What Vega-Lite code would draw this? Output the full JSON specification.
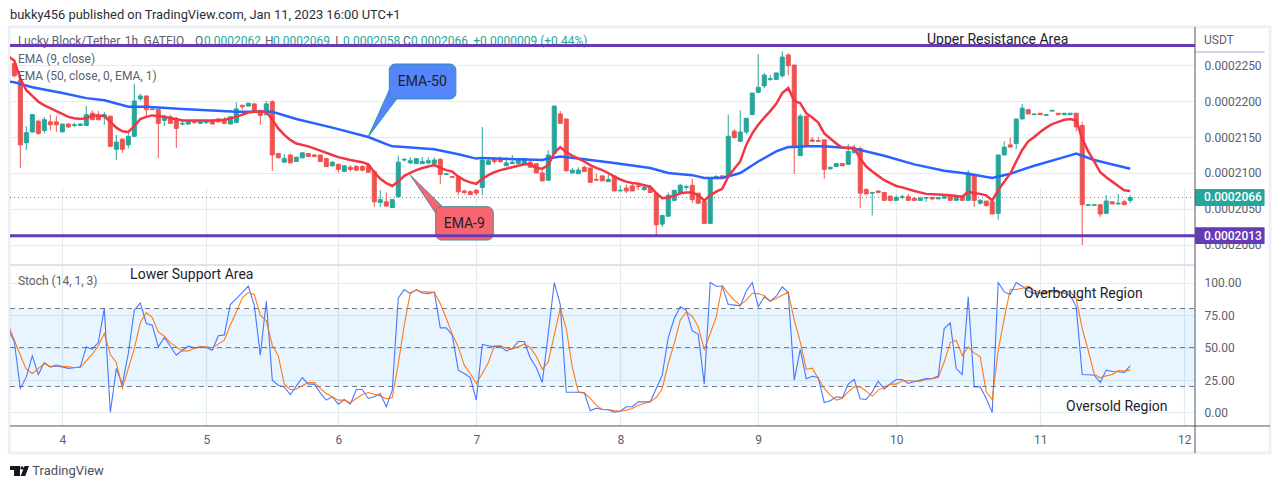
{"$schema":"https://vega.github.io/schema/vega-lite/v6.json","autosize":{"type":"none"},"width":1185,"height":399,"padding":{"left":10,"top":27,"right":85,"bottom":63},"background":"white","config":{"view":{"stroke":null},"text":{"font":"Roboto"},"axis":{"labelFont":"Roboto"}},
"datasets":{"candles":[
{"bar":0,"o":2252,"h":2258,"l":2233,"c":2235},{"bar":1,"o":2229,"h":2236,"l":2107,"c":2139},{"bar":2,"o":2142,"h":2165,"l":2132,"c":2156},{"bar":3,"o":2157,"h":2182,"l":2156,"c":2181},{"bar":4,"o":2172,"h":2174,"l":2153,"c":2155},{"bar":5,"o":2159,"h":2178,"l":2155,"c":2174},{"bar":6,"o":2171,"h":2181,"l":2159,"c":2167},{"bar":7,"o":2171,"h":2179,"l":2157,"c":2167},{"bar":8,"o":2157,"h":2168,"l":2157,"c":2168},{"bar":9,"o":2168,"h":2169,"l":2163,"c":2164},
{"bar":10,"o":2166,"h":2170,"l":2164,"c":2167},{"bar":11,"o":2166,"h":2169,"l":2165,"c":2168},{"bar":12,"o":2166,"h":2193,"l":2166,"c":2181},{"bar":13,"o":2183,"h":2187,"l":2174,"c":2174},{"bar":14,"o":2179,"h":2186,"l":2173,"c":2174},{"bar":15,"o":2178,"h":2185,"l":2167,"c":2181},{"bar":16,"o":2179,"h":2179,"l":2137,"c":2137},{"bar":17,"o":2133,"h":2153,"l":2118,"c":2143},{"bar":18,"o":2147,"h":2148,"l":2128,"c":2133},{"bar":19,"o":2139,"h":2157,"l":2134,"c":2151},
{"bar":20,"o":2151,"h":2224,"l":2150,"c":2200},{"bar":21,"o":2203,"h":2210,"l":2200,"c":2207},{"bar":22,"o":2207,"h":2207,"l":2178,"c":2188},{"bar":23,"o":2189,"h":2189,"l":2188,"c":2188},{"bar":24,"o":2188,"h":2188,"l":2121,"c":2169},{"bar":25,"o":2173,"h":2181,"l":2165,"c":2179},{"bar":26,"o":2178,"h":2181,"l":2169,"c":2169},{"bar":27,"o":2175,"h":2178,"l":2135,"c":2162},{"bar":28,"o":2168,"h":2174,"l":2166,"c":2169},{"bar":29,"o":2168,"h":2173,"l":2167,"c":2172},
{"bar":30,"o":2172,"h":2175,"l":2168,"c":2170},{"bar":31,"o":2169,"h":2174,"l":2168,"c":2172},{"bar":32,"o":2170,"h":2175,"l":2168,"c":2172},{"bar":33,"o":2172,"h":2173,"l":2168,"c":2168},{"bar":34,"o":2175,"h":2176,"l":2170,"c":2171},{"bar":35,"o":2173,"h":2178,"l":2168,"c":2169},{"bar":36,"o":2168,"h":2178,"l":2168,"c":2178},{"bar":37,"o":2170,"h":2198,"l":2170,"c":2189},{"bar":38,"o":2194,"h":2195,"l":2188,"c":2192},{"bar":39,"o":2193,"h":2197,"l":2193,"c":2197},
{"bar":40,"o":2196,"h":2196,"l":2186,"c":2186},{"bar":41,"o":2187,"h":2188,"l":2167,"c":2180},{"bar":42,"o":2181,"h":2200,"l":2180,"c":2196},{"bar":43,"o":2199,"h":2201,"l":2103,"c":2125},{"bar":44,"o":2127,"h":2128,"l":2121,"c":2121},{"bar":45,"o":2115,"h":2126,"l":2115,"c":2120},{"bar":46,"o":2125,"h":2127,"l":2114,"c":2114},{"bar":47,"o":2116,"h":2122,"l":2116,"c":2122},{"bar":48,"o":2121,"h":2129,"l":2121,"c":2128},{"bar":49,"o":2127,"h":2128,"l":2122,"c":2123},
{"bar":50,"o":2125,"h":2126,"l":2122,"c":2123},{"bar":51,"o":2125,"h":2125,"l":2116,"c":2116},{"bar":52,"o":2120,"h":2121,"l":2108,"c":2109},{"bar":53,"o":2110,"h":2116,"l":2109,"c":2115},{"bar":54,"o":2112,"h":2113,"l":2100,"c":2105},{"bar":55,"o":2102,"h":2111,"l":2102,"c":2110},{"bar":56,"o":2108,"h":2111,"l":2102,"c":2105},{"bar":57,"o":2109,"h":2111,"l":2102,"c":2104},{"bar":58,"o":2109,"h":2111,"l":2102,"c":2104},{"bar":59,"o":2110,"h":2113,"l":2101,"c":2101},
{"bar":60,"o":2102,"h":2104,"l":2053,"c":2060},{"bar":61,"o":2059,"h":2076,"l":2053,"c":2063},{"bar":62,"o":2060,"h":2073,"l":2054,"c":2054},{"bar":63,"o":2052,"h":2063,"l":2052,"c":2063},{"bar":64,"o":2067,"h":2124,"l":2066,"c":2115},{"bar":65,"o":2118,"h":2121,"l":2116,"c":2119},{"bar":66,"o":2114,"h":2122,"l":2112,"c":2117},{"bar":67,"o":2113,"h":2121,"l":2113,"c":2120},{"bar":68,"o":2113,"h":2122,"l":2113,"c":2116},{"bar":69,"o":2114,"h":2122,"l":2112,"c":2117},
{"bar":70,"o":2113,"h":2122,"l":2113,"c":2118},{"bar":71,"o":2119,"h":2120,"l":2085,"c":2098},{"bar":72,"o":2098,"h":2099,"l":2098,"c":2099},{"bar":73,"o":2095,"h":2095,"l":2094,"c":2094},{"bar":74,"o":2095,"h":2097,"l":2069,"c":2074},{"bar":75,"o":2075,"h":2077,"l":2070,"c":2073},{"bar":76,"o":2074,"h":2076,"l":2070,"c":2070},{"bar":77,"o":2076,"h":2078,"l":2069,"c":2072},{"bar":78,"o":2080,"h":2164,"l":2069,"c":2118},{"bar":79,"o":2112,"h":2120,"l":2112,"c":2117},
{"bar":80,"o":2120,"h":2120,"l":2113,"c":2116},{"bar":81,"o":2120,"h":2123,"l":2114,"c":2116},{"bar":82,"o":2110,"h":2122,"l":2110,"c":2114},{"bar":83,"o":2113,"h":2125,"l":2113,"c":2115},{"bar":84,"o":2113,"h":2121,"l":2113,"c":2120},{"bar":85,"o":2113,"h":2121,"l":2113,"c":2120},{"bar":86,"o":2115,"h":2119,"l":2108,"c":2108},{"bar":87,"o":2113,"h":2113,"l":2100,"c":2100},{"bar":88,"o":2100,"h":2104,"l":2089,"c":2089},{"bar":89,"o":2090,"h":2132,"l":2089,"c":2125},
{"bar":90,"o":2127,"h":2193,"l":2127,"c":2193},{"bar":91,"o":2182,"h":2186,"l":2168,"c":2169},{"bar":92,"o":2175,"h":2175,"l":2102,"c":2103},{"bar":93,"o":2100,"h":2107,"l":2100,"c":2104},{"bar":94,"o":2099,"h":2108,"l":2099,"c":2104},{"bar":95,"o":2108,"h":2110,"l":2102,"c":2102},{"bar":96,"o":2107,"h":2107,"l":2087,"c":2087},{"bar":97,"o":2091,"h":2099,"l":2089,"c":2090},{"bar":98,"o":2096,"h":2096,"l":2089,"c":2089},{"bar":99,"o":2088,"h":2100,"l":2088,"c":2091},
{"bar":100,"o":2096,"h":2096,"l":2075,"c":2075},{"bar":101,"o":2075,"h":2083,"l":2075,"c":2076},{"bar":102,"o":2079,"h":2084,"l":2072,"c":2075},{"bar":103,"o":2082,"h":2086,"l":2075,"c":2075},{"bar":104,"o":2082,"h":2086,"l":2076,"c":2081},{"bar":105,"o":2077,"h":2083,"l":2075,"c":2080},{"bar":106,"o":2080,"h":2083,"l":2073,"c":2073},{"bar":107,"o":2072,"h":2072,"l":2013,"c":2028},{"bar":108,"o":2029,"h":2041,"l":2025,"c":2041},{"bar":109,"o":2040,"h":2073,"l":2040,"c":2069},
{"bar":110,"o":2062,"h":2076,"l":2062,"c":2076},{"bar":111,"o":2072,"h":2085,"l":2072,"c":2083},{"bar":112,"o":2080,"h":2084,"l":2076,"c":2081},{"bar":113,"o":2083,"h":2092,"l":2058,"c":2063},{"bar":114,"o":2072,"h":2072,"l":2058,"c":2058},{"bar":115,"o":2061,"h":2061,"l":2030,"c":2030},{"bar":116,"o":2030,"h":2092,"l":2030,"c":2092},{"bar":117,"o":2093,"h":2097,"l":2093,"c":2095},{"bar":118,"o":2096,"h":2096,"l":2093,"c":2093},{"bar":119,"o":2095,"h":2181,"l":2095,"c":2151},
{"bar":120,"o":2158,"h":2161,"l":2149,"c":2149},{"bar":121,"o":2144,"h":2187,"l":2144,"c":2157},{"bar":122,"o":2157,"h":2176,"l":2154,"c":2176},{"bar":123,"o":2181,"h":2211,"l":2181,"c":2211},{"bar":124,"o":2212,"h":2265,"l":2212,"c":2219},{"bar":125,"o":2221,"h":2239,"l":2218,"c":2236},{"bar":126,"o":2230,"h":2236,"l":2228,"c":2231},{"bar":127,"o":2230,"h":2239,"l":2230,"c":2239},{"bar":128,"o":2235,"h":2269,"l":2232,"c":2261},{"bar":129,"o":2264,"h":2266,"l":2236,"c":2249},
{"bar":130,"o":2250,"h":2250,"l":2099,"c":2137},{"bar":131,"o":2124,"h":2182,"l":2124,"c":2179},{"bar":132,"o":2179,"h":2179,"l":2139,"c":2139},{"bar":133,"o":2146,"h":2150,"l":2143,"c":2144},{"bar":134,"o":2145,"h":2150,"l":2143,"c":2144},{"bar":135,"o":2146,"h":2146,"l":2092,"c":2105},{"bar":136,"o":2106,"h":2108,"l":2104,"c":2108},{"bar":137,"o":2109,"h":2113,"l":2109,"c":2113},{"bar":138,"o":2113,"h":2113,"l":2110,"c":2110},{"bar":139,"o":2112,"h":2140,"l":2112,"c":2130},
{"bar":140,"o":2128,"h":2139,"l":2128,"c":2134},{"bar":141,"o":2134,"h":2137,"l":2051,"c":2072},{"bar":142,"o":2077,"h":2079,"l":2070,"c":2071},{"bar":143,"o":2072,"h":2073,"l":2041,"c":2073},{"bar":144,"o":2075,"h":2075,"l":2073,"c":2073},{"bar":145,"o":2073,"h":2073,"l":2062,"c":2062},{"bar":146,"o":2068,"h":2068,"l":2062,"c":2062},{"bar":147,"o":2062,"h":2069,"l":2062,"c":2066},{"bar":148,"o":2066,"h":2070,"l":2064,"c":2067},{"bar":149,"o":2067,"h":2071,"l":2062,"c":2062},
{"bar":150,"o":2065,"h":2065,"l":2062,"c":2062},{"bar":151,"o":2062,"h":2067,"l":2062,"c":2065},{"bar":152,"o":2065,"h":2066,"l":2060,"c":2066},{"bar":153,"o":2066,"h":2066,"l":2062,"c":2064},{"bar":154,"o":2064,"h":2066,"l":2064,"c":2066},{"bar":155,"o":2065,"h":2067,"l":2065,"c":2067},{"bar":156,"o":2068,"h":2068,"l":2062,"c":2062},{"bar":157,"o":2062,"h":2067,"l":2062,"c":2067},{"bar":158,"o":2068,"h":2068,"l":2062,"c":2062},{"bar":159,"o":2062,"h":2104,"l":2062,"c":2100},
{"bar":160,"o":2097,"h":2097,"l":2053,"c":2062},{"bar":161,"o":2058,"h":2064,"l":2056,"c":2062},{"bar":162,"o":2061,"h":2061,"l":2053,"c":2055},{"bar":163,"o":2060,"h":2065,"l":2043,"c":2043},{"bar":164,"o":2044,"h":2125,"l":2035,"c":2125},{"bar":165,"o":2125,"h":2144,"l":2125,"c":2136},{"bar":166,"o":2139,"h":2149,"l":2136,"c":2136},{"bar":167,"o":2141,"h":2175,"l":2133,"c":2175},{"bar":168,"o":2175,"h":2196,"l":2175,"c":2190},{"bar":169,"o":2188,"h":2189,"l":2182,"c":2182},
{"bar":170,"o":2181,"h":2182,"l":2181,"c":2182},{"bar":171,"o":2183,"h":2183,"l":2181,"c":2181},{"bar":172,"o":2180,"h":2181,"l":2180,"c":2181},{"bar":173,"o":2186,"h":2187,"l":2186,"c":2187},{"bar":174,"o":2183,"h":2183,"l":2181,"c":2181},{"bar":175,"o":2181,"h":2183,"l":2181,"c":2183},{"bar":176,"o":2181,"h":2183,"l":2181,"c":2183},{"bar":177,"o":2183,"h":2183,"l":2158,"c":2164},{"bar":178,"o":2166,"h":2171,"l":2000,"c":2056},{"bar":179,"o":2055,"h":2056,"l":2055,"c":2056},
{"bar":180,"o":2055,"h":2056,"l":2055,"c":2056},{"bar":181,"o":2056,"h":2056,"l":2039,"c":2043},{"bar":182,"o":2044,"h":2069,"l":2044,"c":2061},{"bar":183,"o":2060,"h":2060,"l":2057,"c":2057},{"bar":184,"o":2057,"h":2071,"l":2056,"c":2058},{"bar":185,"o":2060,"h":2063,"l":2056,"c":2056},{"bar":186,"o":2062,"h":2069,"l":2058,"c":2066}],
"ema9":[{"bar":-1,"p":2262},{"bar":0,"p":2256},{"bar":1,"p":2231},{"bar":2,"p":2215},{"bar":3,"p":2207},{"bar":4,"p":2199},{"bar":5,"p":2194},{"bar":6,"p":2190},{"bar":7,"p":2186},{"bar":8,"p":2182},{"bar":9,"p":2178},{"bar":10,"p":2176},{"bar":11,"p":2175},{"bar":12,"p":2176},{"bar":13,"p":2180},{"bar":14,"p":2180},{"bar":15,"p":2179},{"bar":16,"p":2171},{"bar":17,"p":2163},{"bar":18,"p":2158},{"bar":19,"p":2157},{"bar":20,"p":2165},{"bar":21,"p":2175},{"bar":22,"p":2178},{"bar":23,"p":2180},{"bar":24,"p":2179},{"bar":25,"p":2178},{"bar":26,"p":2176},{"bar":27,"p":2175},{"bar":28,"p":2173},{"bar":31,"p":2173},{"bar":33,"p":2173},{"bar":35,"p":2174},{"bar":37,"p":2178},{"bar":39,"p":2184},{"bar":40,"p":2185},{"bar":41,"p":2185},{"bar":42,"p":2185},{"bar":43,"p":2174},{"bar":44,"p":2162},{"bar":45,"p":2153},{"bar":46,"p":2146},{"bar":47,"p":2141},{"bar":49,"p":2137},{"bar":51,"p":2131},{"bar":53,"p":2125},{"bar":54,"p":2122},{"bar":56,"p":2118},{"bar":58,"p":2115},{"bar":59,"p":2112},{"bar":60,"p":2101},{"bar":61,"p":2092},{"bar":62,"p":2086},{"bar":63,"p":2082},{"bar":64,"p":2088},{"bar":65,"p":2096},{"bar":66,"p":2100},{"bar":67,"p":2104},{"bar":68,"p":2107},{"bar":69,"p":2109},{"bar":70,"p":2111},{"bar":71,"p":2107},{"bar":72,"p":2104},{"bar":73,"p":2102},{"bar":74,"p":2095},{"bar":75,"p":2090},{"bar":76,"p":2087},{"bar":77,"p":2085},{"bar":78,"p":2092},{"bar":79,"p":2097},{"bar":80,"p":2101},{"bar":81,"p":2104},{"bar":82,"p":2106},{"bar":83,"p":2108},{"bar":84,"p":2110},{"bar":85,"p":2112},{"bar":86,"p":2112},{"bar":87,"p":2107},{"bar":88,"p":2106},{"bar":89,"p":2111},{"bar":90,"p":2128},{"bar":91,"p":2136},{"bar":92,"p":2129},{"bar":93,"p":2124},{"bar":94,"p":2120},{"bar":95,"p":2116},{"bar":96,"p":2111},{"bar":97,"p":2107},{"bar":98,"p":2104},{"bar":99,"p":2100},{"bar":100,"p":2095},{"bar":101,"p":2091},{"bar":102,"p":2088},{"bar":103,"p":2086},{"bar":104,"p":2085},{"bar":105,"p":2083},{"bar":106,"p":2081},{"bar":107,"p":2072},{"bar":108,"p":2065},{"bar":109,"p":2066},{"bar":110,"p":2068},{"bar":111,"p":2072},{"bar":112,"p":2073},{"bar":113,"p":2073},{"bar":114,"p":2069},{"bar":115,"p":2062},{"bar":116,"p":2069},{"bar":117,"p":2074},{"bar":118,"p":2078},{"bar":119,"p":2095},{"bar":120,"p":2106},{"bar":121,"p":2116},{"bar":122,"p":2139},{"bar":123,"p":2155},{"bar":124,"p":2167},{"bar":125,"p":2177},{"bar":126,"p":2186},{"bar":127,"p":2196},{"bar":128,"p":2211},{"bar":129,"p":2218},{"bar":130,"p":2200},{"bar":131,"p":2197},{"bar":132,"p":2183},{"bar":133,"p":2177},{"bar":134,"p":2170},{"bar":135,"p":2155},{"bar":136,"p":2148},{"bar":137,"p":2141},{"bar":138,"p":2135},{"bar":139,"p":2135},{"bar":140,"p":2135},{"bar":141,"p":2120},{"bar":142,"p":2109},{"bar":143,"p":2102},{"bar":144,"p":2096},{"bar":145,"p":2090},{"bar":146,"p":2086},{"bar":147,"p":2082},{"bar":148,"p":2080},{"bar":150,"p":2075},{"bar":152,"p":2071},{"bar":154,"p":2070},{"bar":156,"p":2069},{"bar":158,"p":2067},{"bar":159,"p":2074},{"bar":160,"p":2072},{"bar":161,"p":2071},{"bar":162,"p":2069},{"bar":163,"p":2062},{"bar":164,"p":2076},{"bar":165,"p":2088},{"bar":166,"p":2099},{"bar":167,"p":2116},{"bar":168,"p":2132},{"bar":169,"p":2144},{"bar":170,"p":2150},{"bar":171,"p":2157},{"bar":172,"p":2163},{"bar":173,"p":2168},{"bar":174,"p":2171},{"bar":175,"p":2174},{"bar":176,"p":2175},{"bar":177,"p":2173},{"bar":178,"p":2148},{"bar":179,"p":2130},{"bar":180,"p":2116},{"bar":181,"p":2101},{"bar":182,"p":2094},{"bar":183,"p":2088},{"bar":184,"p":2082},{"bar":185,"p":2076},{"bar":186,"p":2075}],
"ema50":[{"bar":-1,"p":2227},{"bar":0,"p":2226},{"bar":3,"p":2219},{"bar":8,"p":2211},{"bar":12,"p":2204},{"bar":15,"p":2201},{"bar":19,"p":2192},{"bar":22,"p":2192},{"bar":28,"p":2189},{"bar":37,"p":2185},{"bar":40,"p":2185},{"bar":43,"p":2185},{"bar":47,"p":2175},{"bar":53,"p":2163},{"bar":59,"p":2150},{"bar":62,"p":2140},{"bar":63,"p":2137},{"bar":65,"p":2136},{"bar":70,"p":2133},{"bar":74,"p":2126},{"bar":77,"p":2120},{"bar":78,"p":2121},{"bar":84,"p":2119},{"bar":88,"p":2118},{"bar":89,"p":2120},{"bar":91,"p":2123},{"bar":94,"p":2120},{"bar":100,"p":2114},{"bar":106,"p":2107},{"bar":109,"p":2100},{"bar":113,"p":2097},{"bar":115,"p":2093},{"bar":118,"p":2093},{"bar":121,"p":2100},{"bar":124,"p":2116},{"bar":127,"p":2130},{"bar":129,"p":2136},{"bar":130,"p":2136},{"bar":132,"p":2137},{"bar":135,"p":2137},{"bar":140,"p":2134},{"bar":145,"p":2124},{"bar":150,"p":2112},{"bar":155,"p":2103},{"bar":159,"p":2099},{"bar":163,"p":2093},{"bar":166,"p":2099},{"bar":170,"p":2110},{"bar":175,"p":2122},{"bar":177,"p":2127},{"bar":178,"p":2124},{"bar":180,"p":2118},{"bar":186,"p":2106}],
"stoch":[{"bar":-1,"k":64,"d":67},{"bar":0,"k":54.4,"d":55.6},{"bar":1,"k":18.5,"d":44.1},{"bar":2,"k":27.4,"d":33.3},{"bar":3,"k":43.6,"d":30},{"bar":4,"k":29.2,"d":33.8},{"bar":5,"k":38.5,"d":37.7},{"bar":6,"k":35.1,"d":35.1},{"bar":7,"k":35.9,"d":36.4},{"bar":8,"k":35.1,"d":35.6},{"bar":9,"k":33.8,"d":35.1},{"bar":10,"k":34.4,"d":34.6},{"bar":11,"k":35.1,"d":34.6},{"bar":12,"k":50.5,"d":39.7},{"bar":13,"k":48.7,"d":44.9},{"bar":14,"k":53.8,"d":51.3},{"bar":15,"k":80,"d":60.8},{"bar":16,"k":0,"d":44.6},{"bar":17,"k":33.8,"d":38.5},{"bar":18,"k":21.8,"d":18.5},{"bar":19,"k":45.4,"d":33.8},{"bar":20,"k":78.7,"d":49.2},{"bar":21,"k":84.4,"d":69},{"bar":22,"k":68.5,"d":76.9},{"bar":23,"k":67.2,"d":73.1},{"bar":24,"k":50.5,"d":62},{"bar":25,"k":57.7,"d":58.7},{"bar":26,"k":51,"d":53.6},{"bar":27,"k":44.1,"d":50.5},{"bar":28,"k":47.9,"d":47.4},{"bar":29,"k":51,"d":47.4},{"bar":30,"k":49.7,"d":49.2},{"bar":31,"k":50.5,"d":50.5},{"bar":32,"k":50,"d":50.5},{"bar":33,"k":47.9,"d":49.7},{"bar":34,"k":59,"d":52.6},{"bar":35,"k":59.7,"d":55.6},{"bar":36,"k":83.1,"d":67.2},{"bar":37,"k":87.7,"d":77.4},{"bar":38,"k":92.3,"d":88.2},{"bar":39,"k":97.2,"d":92.3},{"bar":40,"k":82.6,"d":90.8},{"bar":41,"k":44.1,"d":74.9},{"bar":42,"k":85.6,"d":70.5},{"bar":43,"k":24.9,"d":51.8},{"bar":44,"k":21,"d":43.6},{"bar":45,"k":19.7,"d":21.8},{"bar":46,"k":13.8,"d":17.7},{"bar":47,"k":20.3,"d":17.9},{"bar":48,"k":26.9,"d":20.5},{"bar":49,"k":21.8,"d":23.1},{"bar":50,"k":21.8,"d":23.1},{"bar":51,"k":15.1,"d":18.5},{"bar":52,"k":9.5,"d":14.6},{"bar":53,"k":12.1,"d":12.1},{"bar":54,"k":6.4,"d":9.5},{"bar":55,"k":10,"d":9.5},{"bar":56,"k":6.4,"d":7.4},{"bar":57,"k":17.7,"d":10.8},{"bar":58,"k":17.7,"d":13.8},{"bar":59,"k":10.8,"d":15.4},{"bar":60,"k":12.1,"d":14.1},{"bar":61,"k":14.6,"d":12.8},{"bar":62,"k":4.4,"d":10.5},{"bar":63,"k":17.2,"d":11.5},{"bar":64,"k":88.2,"d":37.7},{"bar":65,"k":94.6,"d":67.2},{"bar":66,"k":91.5,"d":92.3},{"bar":67,"k":94.6,"d":94.1},{"bar":68,"k":92,"d":92.8},{"bar":69,"k":91.5,"d":92.8},{"bar":70,"k":92.8,"d":92.3},{"bar":71,"k":65.1,"d":83.8},{"bar":72,"k":65.1,"d":72.3},{"bar":73,"k":59.5,"d":60.3},{"bar":74,"k":32.6,"d":50.5},{"bar":75,"k":30,"d":36.4},{"bar":76,"k":26.9,"d":30},{"bar":77,"k":9.5,"d":22.3},{"bar":78,"k":52.3,"d":30},{"bar":79,"k":51.3,"d":38.2},{"bar":80,"k":50.5,"d":51.3},{"bar":81,"k":51,"d":51.3},{"bar":82,"k":47.4,"d":49.7},{"bar":83,"k":49.2,"d":49},{"bar":84,"k":54.6,"d":50.5},{"bar":85,"k":54.6,"d":52.6},{"bar":86,"k":42,"d":50},{"bar":87,"k":34.6,"d":43.3},{"bar":88,"k":23.1,"d":33.3},{"bar":89,"k":60.8,"d":39},{"bar":90,"k":100,"d":59.5},{"bar":91,"k":83.1,"d":80.5},{"bar":92,"k":15.6,"d":64.6},{"bar":93,"k":15.6,"d":35.1},{"bar":94,"k":15.6,"d":15.9},{"bar":95,"k":15.1,"d":15.1},{"bar":96,"k":1.3,"d":10.8},{"bar":97,"k":3.3,"d":5.6},{"bar":98,"k":2.3,"d":2.3},{"bar":99,"k":2.1,"d":2.3},{"bar":100,"k":0.3,"d":1.5},{"bar":101,"k":1,"d":1},{"bar":102,"k":4.4,"d":1.8},{"bar":103,"k":4.4,"d":3.1},{"bar":104,"k":8.2,"d":5.6},{"bar":105,"k":8.2,"d":6.9},{"bar":106,"k":8.2,"d":8.2},{"bar":107,"k":18.5,"d":11.5},{"bar":108,"k":28.7,"d":18.5},{"bar":109,"k":57.7,"d":37.7},{"bar":110,"k":72.3,"d":53.1},{"bar":111,"k":81.3,"d":71},{"bar":112,"k":78.7,"d":77.4},{"bar":113,"k":62.8,"d":74.1},{"bar":114,"k":60.3,"d":65.9},{"bar":115,"k":21.8,"d":48.5},{"bar":116,"k":100,"d":60.8},{"bar":117,"k":97.2,"d":73.6},{"bar":118,"k":97.2,"d":97.7},{"bar":119,"k":83.1,"d":91.5},{"bar":120,"k":82.6,"d":86.4},{"bar":121,"k":82.1,"d":82.6},{"bar":122,"k":93.3,"d":86.4},{"bar":123,"k":100,"d":91.8},{"bar":124,"k":81.3,"d":91.5},{"bar":125,"k":89,"d":90},{"bar":126,"k":85.6,"d":85.6},{"bar":127,"k":89.5,"d":87.7},{"bar":128,"k":96.7,"d":90.3},{"bar":129,"k":92.3,"d":92.6},{"bar":130,"k":24.9,"d":71},{"bar":131,"k":48.5,"d":54.4},{"bar":132,"k":25.9,"d":33.3},{"bar":133,"k":27.9,"d":34.1},{"bar":134,"k":26.9,"d":26.2},{"bar":135,"k":7.7,"d":18.5},{"bar":136,"k":9,"d":13.3},{"bar":137,"k":12.1,"d":9.5},{"bar":138,"k":11.3,"d":10.8},{"bar":139,"k":21.8,"d":15.9},{"bar":140,"k":25.4,"d":19.7},{"bar":141,"k":10.5,"d":19.7},{"bar":142,"k":10,"d":16.4},{"bar":143,"k":15.9,"d":12.6},{"bar":144,"k":24.1,"d":17.2},{"bar":145,"k":17.9,"d":19.7},{"bar":146,"k":21.8,"d":21.8},{"bar":147,"k":25.4,"d":21.8},{"bar":148,"k":25.4,"d":24.4},{"bar":149,"k":22.3,"d":24.4},{"bar":150,"k":23.6,"d":24.1},{"bar":151,"k":24.9,"d":24.1},{"bar":152,"k":26.2,"d":25.4},{"bar":153,"k":26.2,"d":25.9},{"bar":154,"k":28,"d":26.9},{"bar":155,"k":64.6,"d":39},{"bar":156,"k":69,"d":53.8},{"bar":157,"k":33.8,"d":55.6},{"bar":158,"k":29.2,"d":43.8},{"bar":159,"k":89,"d":50.5},{"bar":160,"k":19.7,"d":45.9},{"bar":161,"k":19.7,"d":42.8},{"bar":162,"k":10.8,"d":15.9},{"bar":163,"k":0,"d":10},{"bar":164,"k":100,"d":47.9},{"bar":165,"k":92.8,"d":72.3},{"bar":166,"k":90.8,"d":94.6},{"bar":167,"k":100,"d":94.6},{"bar":168,"k":97.2,"d":95.6},{"bar":169,"k":93.6,"d":97.2},{"bar":170,"k":91.5,"d":94.1},{"bar":171,"k":92,"d":92},{"bar":172,"k":92.8,"d":92.6},{"bar":173,"k":94.1,"d":92.8},{"bar":174,"k":92.8,"d":92.8},{"bar":175,"k":91.5,"d":92.8},{"bar":176,"k":90.3,"d":92.8},{"bar":177,"k":81.3,"d":87.7},{"bar":178,"k":29.2,"d":64.6},{"bar":179,"k":29,"d":47.9},{"bar":180,"k":28.7,"d":29.5},{"bar":181,"k":23.1,"d":26.7},{"bar":182,"k":32.6,"d":28.2},{"bar":183,"k":31.5,"d":29.2},{"bar":184,"k":31.3,"d":32.3},{"bar":185,"k":30.8,"d":31.8},{"bar":186,"k":35.9,"d":32.6}]},
"encoding":{"x":{"field":"bar","type":"quantitative","title":null,"scale":{"domain":[-0.72,196.8],"nice":false,"zero":false,"padding":0},"axis":{"values":[8,32,54,77,101,124,147,171,195],"labelExpr":"{8:'4',32:'5',54:'6',77:'7',101:'8',124:'9',147:'10',171:'11',195:'12'}[datum.value]","grid":true,"gridColor":"#e1ecf3","gridWidth":1.2,"domain":false,"ticks":false,"labelPadding":8,"labelFontSize":12,"labelColor":"#5d606b"}}},
"layer":[
{"layer":[
{"data":{"values":[{"bar":-0.83,"bar2":209.3,"p":1711,"p2":2303}]},"mark":{"type":"rect","fill":null,"stroke":"#eef0f6","strokeWidth":3},"encoding":{"x2":{"field":"bar2"},"y":{"field":"p","type":"quantitative","title":null,"scale":{"domain":[1972.2,2302.8],"range":[238,0],"nice":false,"zero":false},"axis":{"orient":"right","values":[2000,2050,2100,2150,2200,2250],"labelExpr":"format(datum.value/10000000,'.7f')","grid":true,"gridColor":"#e1ecf3","gridWidth":1.2,"domain":false,"ticks":false,"labelPadding":9,"labelFontSize":12,"labelColor":"#5d606b"}},"y2":{"field":"p2"}}},
{"data":{"name":"candles"},"mark":{"type":"rule","strokeWidth":1},"encoding":{"y":{"field":"h","type":"quantitative","title":null,"scale":{"domain":[1972.2,2302.8],"range":[238,0],"nice":false,"zero":false}},"y2":{"field":"l"},"stroke":{"condition":{"test":"datum.c>=datum.o","value":"#26a69a"},"value":"#ef5350"}}},
{"data":{"name":"candles"},"mark":{"type":"bar","size":4,"strokeWidth":1},"encoding":{"y":{"field":"o","type":"quantitative","title":null,"scale":{"domain":[1972.2,2302.8],"range":[238,0],"nice":false,"zero":false}},"y2":{"field":"c"},"fill":{"condition":{"test":"datum.c>=datum.o","value":"#26a69a"},"value":"#ef5350"},"stroke":{"condition":{"test":"datum.c>=datum.o","value":"#26a69a"},"value":"#ef5350"}}},
{"data":{"values":[{"bar":-0.72,"bar2":196.8,"p":2066}]},"mark":{"type":"rule","stroke":"#26a69a","strokeDash":[1,3],"strokeWidth":1},"encoding":{"x2":{"field":"bar2"},"y":{"field":"p","type":"quantitative","title":null,"scale":{"domain":[1972.2,2302.8],"range":[238,0],"nice":false,"zero":false}}}},
{"data":{"name":"ema50"},"mark":{"type":"line","stroke":"#2962ff","strokeWidth":2.5,"clip":true},"encoding":{"y":{"field":"p","type":"quantitative","title":null,"scale":{"domain":[1972.2,2302.8],"range":[238,0],"nice":false,"zero":false}}}},
{"data":{"name":"ema9"},"mark":{"type":"line","stroke":"#f23645","strokeWidth":2.5,"clip":true},"encoding":{"y":{"field":"p","type":"quantitative","title":null,"scale":{"domain":[1972.2,2302.8],"range":[238,0],"nice":false,"zero":false}}}},
{"data":{"values":[{"bar":59,"p":2150.4,"p2":2150.4},{"bar":62.5,"p":2215.3,"p2":2189.2},{"bar":63.73,"p":2202.8,"p2":2202.8}]},"mark":{"type":"area","fill":"#5585fb","stroke":"#2a93b0","strokeWidth":1},"encoding":{"y":{"field":"p","type":"quantitative","title":null,"scale":{"domain":[1972.2,2302.8],"range":[238,0],"nice":false,"zero":false}},"y2":{"field":"p2"}}},
{"data":{"values":[{"bar":66,"p":2097.2,"p2":2097.2},{"bar":70.23,"p":2062.6,"p2":2044.4},{"bar":71.4,"p":2053.2,"p2":2053.2}]},"mark":{"type":"area","fill":"#f7656f","stroke":"#4c8b99","strokeWidth":1},"encoding":{"y":{"field":"p","type":"quantitative","title":null,"scale":{"domain":[1972.2,2302.8],"range":[238,0],"nice":false,"zero":false}},"y2":{"field":"p2"}}},
{"data":{"values":[{"bar":62.5,"bar2":73.6,"p":2251.4,"p2":2202.8}]},"mark":{"type":"rect","fill":"#5585fb","stroke":"#2a93b0","strokeWidth":1,"cornerRadius":6},"encoding":{"x2":{"field":"bar2"},"y":{"field":"p","type":"quantitative","title":null,"scale":{"domain":[1972.2,2302.8],"range":[238,0],"nice":false,"zero":false}},"y2":{"field":"p2"}}},
{"data":{"values":[{"bar":70.23,"bar2":79.83,"p":2053.2,"p2":2006.9}]},"mark":{"type":"rect","fill":"#f7656f","stroke":"#4c8b99","strokeWidth":1,"cornerRadius":6},"encoding":{"x2":{"field":"bar2"},"y":{"field":"p","type":"quantitative","title":null,"scale":{"domain":[1972.2,2302.8],"range":[238,0],"nice":false,"zero":false}},"y2":{"field":"p2"}}},
{"data":{"values":[{"bar":68,"p":2226,"t":"EMA-50"},{"bar":75,"p":2029.5,"t":"EMA-9"},{"bar":163.9,"p":2284.7,"t":"Upper Resistance Area"}]},"mark":{"type":"text","fontSize":14,"align":"center","baseline":"middle","fill":"#1e222d"},"encoding":{"y":{"field":"p","type":"quantitative","title":null,"scale":{"domain":[1972.2,2302.8],"range":[238,0],"nice":false,"zero":false}},"text":{"field":"t"}}},
{"data":{"values":[{"bar":0.6,"p":2283.3,"t":"Lucky Block/Tether, 1h, GATEIO"},{"bar":30.1,"p":2283.3,"t":"O"},{"bar":41.8,"p":2283.3,"t":"H"},{"bar":53.5,"p":2283.3,"t":"L"},{"bar":64.8,"p":2283.3,"t":"C"},{"bar":0.6,"p":2258.3,"t":"EMA (9, close)"},{"bar":0.6,"p":2234.7,"t":"EMA (50, close, 0, EMA, 1)"},{"bar":198.3,"p":2284.7,"t":"USDT"}]},"mark":{"type":"text","fontSize":12,"align":"left","baseline":"middle","fill":"#5d606b"},"encoding":{"y":{"field":"p","type":"quantitative","title":null,"scale":{"domain":[1972.2,2302.8],"range":[238,0],"nice":false,"zero":false}},"text":{"field":"t"}}},
{"data":{"values":[{"bar":31.6,"p":2283.3,"t":"0.0002062"},{"bar":43.1,"p":2283.3,"t":"0.0002069"},{"bar":54.8,"p":2283.3,"t":"0.0002058"},{"bar":66.1,"p":2283.3,"t":"0.0002066"},{"bar":76.5,"p":2283.3,"t":"+0.0000009 (+0.44%)"}]},"mark":{"type":"text","fontSize":12,"align":"left","baseline":"middle","fill":"#26a69a"},"encoding":{"y":{"field":"p","type":"quantitative","title":null,"scale":{"domain":[1972.2,2302.8],"range":[238,0],"nice":false,"zero":false}},"text":{"field":"t"}}},
{"data":{"values":[{"bar":-0.72,"bar2":196.8,"p":2277},{"bar":-0.72,"bar2":196.8,"p":2013}]},"mark":{"type":"rule","stroke":"#673ab7","strokeWidth":3},"encoding":{"x2":{"field":"bar2"},"y":{"field":"p","type":"quantitative","title":null,"scale":{"domain":[1972.2,2302.8],"range":[238,0],"nice":false,"zero":false}}}},
{"data":{"values":[{"bar":196.8,"bar2":208.4,"p":2268}]},"mark":{"type":"rule","stroke":"#d9d0ef","strokeWidth":2},"encoding":{"x2":{"field":"bar2"},"y":{"field":"p","type":"quantitative","title":null,"scale":{"domain":[1972.2,2302.8],"range":[238,0],"nice":false,"zero":false}}}},
{"data":{"values":[{"bar":196.8,"bar2":208.4,"p":2054.2,"p2":2077.8,"c":"#26a69a"},{"bar":196.8,"bar2":208.4,"p":2001.2,"p2":2024.8,"c":"#673ab7"}]},"mark":{"type":"rect","cornerRadius":1},"encoding":{"x2":{"field":"bar2"},"y":{"field":"p","type":"quantitative","title":null,"scale":{"domain":[1972.2,2302.8],"range":[238,0],"nice":false,"zero":false}},"y2":{"field":"p2"},"fill":{"field":"c","type":"nominal","scale":null}}},
{"data":{"values":[{"bar":198.3,"p":2066,"t":"0.0002066"},{"bar":198.3,"p":2013,"t":"0.0002013"}]},"mark":{"type":"text","fontSize":12,"fontWeight":500,"align":"left","baseline":"middle","fill":"white"},"encoding":{"y":{"field":"p","type":"quantitative","title":null,"scale":{"domain":[1972.2,2302.8],"range":[238,0],"nice":false,"zero":false}},"text":{"field":"t"}}},
{"data":{"values":[{"bar":-0.72,"bar2":196.8,"p":1972.2}]},"mark":{"type":"rule","stroke":"#e0e3eb","strokeWidth":2},"encoding":{"x2":{"field":"bar2"},"y":{"field":"p","type":"quantitative","title":null,"scale":{"domain":[1972.2,2302.8],"range":[238,0],"nice":false,"zero":false}}}},
{"data":{"values":[{"bar":196.8,"p":1711,"p2":2302.8}]},"mark":{"type":"rule","stroke":"#50535e","strokeWidth":1},"encoding":{"y":{"field":"p","type":"quantitative","title":null,"scale":{"domain":[1972.2,2302.8],"range":[238,0],"nice":false,"zero":false}},"y2":{"field":"p2"}}},
{"data":{"values":[{"bar":-0.72,"bar2":209.3,"p":1748.6}]},"mark":{"type":"rule","stroke":"#50535e","strokeWidth":1},"encoding":{"x2":{"field":"bar2"},"y":{"field":"p","type":"quantitative","title":null,"scale":{"domain":[1972.2,2302.8],"range":[238,0],"nice":false,"zero":false}}}},
{"data":{"values":[{"bar":-0.72,"p":2319.4,"t":"bukky456 published on TradingView.com, Jan 11, 2023 16:00 UTC+1"}]},"mark":{"type":"text","fontSize":12.9,"align":"left","baseline":"middle","fill":"#2a2e39"},"encoding":{"y":{"field":"p","type":"quantitative","title":null,"scale":{"domain":[1972.2,2302.8],"range":[238,0],"nice":false,"zero":false}},"text":{"field":"t"}}}
]},
{"layer":[
{"data":{"values":[{"bar":-0.72,"bar2":196.8,"s":20,"s2":80}]},"mark":{"type":"rect","fill":"#2196f3","opacity":0.1},"encoding":{"x2":{"field":"bar2"},"y":{"field":"s","type":"quantitative","title":null,"scale":{"domain":[-10.4,113.5],"range":[399,238],"nice":false,"zero":false},"axis":{"orient":"right","values":[0,25,50,75,100],"format":".2f","grid":true,"gridColor":"#e1ecf3","gridWidth":1.2,"domain":false,"ticks":false,"labelPadding":9,"labelFontSize":12,"labelColor":"#5d606b"}},"y2":{"field":"s2"}}},
{"data":{"values":[{"bar":-0.72,"bar2":196.8,"s":80},{"bar":-0.72,"bar2":196.8,"s":50},{"bar":-0.72,"bar2":196.8,"s":20}]},"mark":{"type":"rule","stroke":"#787b86","strokeDash":[5,4],"strokeWidth":1},"encoding":{"x2":{"field":"bar2"},"y":{"field":"s","type":"quantitative","title":null,"scale":{"domain":[-10.4,113.5],"range":[399,238],"nice":false,"zero":false}}}},
{"data":{"name":"stoch"},"mark":{"type":"line","stroke":"#2962ff","strokeWidth":1.1,"clip":true,"opacity":0.85},"encoding":{"y":{"field":"k","type":"quantitative","title":null,"scale":{"domain":[-10.4,113.5],"range":[399,238],"nice":false,"zero":false}}}},
{"data":{"name":"stoch"},"mark":{"type":"line","stroke":"#ff6d00","strokeWidth":1.1,"clip":true,"opacity":0.9},"encoding":{"y":{"field":"d","type":"quantitative","title":null,"scale":{"domain":[-10.4,113.5],"range":[399,238],"nice":false,"zero":false}}}},
{"data":{"values":[{"bar":19.3,"s":105.8,"t":"Lower Support Area"},{"bar":168.3,"s":91.2,"t":"Overbought Region"},{"bar":175.3,"s":4.2,"t":"Oversold Region"}]},"mark":{"type":"text","fontSize":14,"align":"left","baseline":"middle","fill":"#1e222d"},"encoding":{"y":{"field":"s","type":"quantitative","title":null,"scale":{"domain":[-10.4,113.5],"range":[399,238],"nice":false,"zero":false}},"text":{"field":"t"}}},
{"data":{"values":[{"bar":0.6,"s":101,"t":"Stoch (14, 1, 3)"}]},"mark":{"type":"text","fontSize":12,"align":"left","baseline":"middle","fill":"#5d606b"},"encoding":{"y":{"field":"s","type":"quantitative","title":null,"scale":{"domain":[-10.4,113.5],"range":[399,238],"nice":false,"zero":false}},"text":{"field":"t"}}},
{"data":{"values":[{"bar":3,"s":-45,"t":"TradingView"}]},"mark":{"type":"text","fontSize":13,"align":"left","baseline":"middle","fill":"#4a4e59"},"encoding":{"y":{"field":"s","type":"quantitative","title":null,"scale":{"domain":[-10.4,113.5],"range":[399,238],"nice":false,"zero":false}},"text":{"field":"t"}}},
{"data":{"values":[{"bar":0.87,"s":-45}]},"mark":{"type":"point","filled":true,"fill":"#131722","stroke":null,"opacity":1,"size":361,"shape":"M-1,-.53H.05V.53H-.58V-.1H-1ZM.53,-.53H1L.6,.53H.12ZM.09,-.32A.17,.17 0 1 0 .43,-.32A.17,.17 0 1 0 .09,-.32Z"},"encoding":{"y":{"field":"s","type":"quantitative","title":null,"scale":{"domain":[-10.4,113.5],"range":[399,238],"nice":false,"zero":false}}}}
]}
],
"resolve":{"scale":{"y":"independent"},"axis":{"y":"independent"}}}
